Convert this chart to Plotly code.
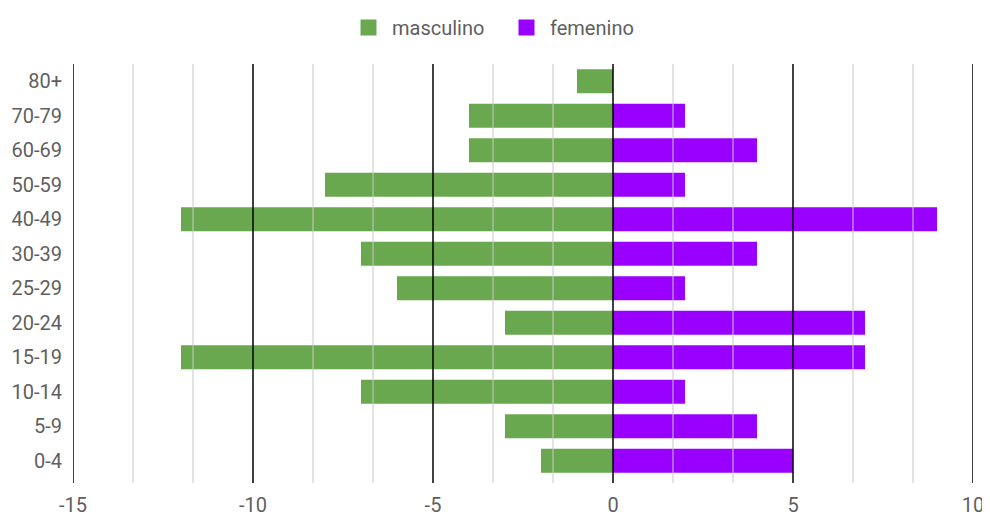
import plotly.graph_objects as go

categories = ["80+", "70-79", "60-69", "50-59", "40-49", "30-39", "25-29",
              "20-24", "15-19", "10-14", "5-9", "0-4"]
masculino = [-1, -4, -4, -8, -12, -7, -6, -3, -12, -7, -3, -2]
femenino = [0, 2, 4, 2, 9, 4, 2, 7, 7, 2, 4, 5]
x_ticks = [-15, -10, -5, 0, 5, 10]
green = "#6aa84f"
purple = "#9900ff"

fig = go.Figure()
fig.add_trace(go.Bar(y=categories, x=masculino, orientation="h", name="masculino",
                     marker=dict(color=green, line=dict(width=0)), width=0.7,
                     showlegend=False))
fig.add_trace(go.Bar(y=categories, x=femenino, orientation="h", name="femenino",
                     marker=dict(color=purple, line=dict(width=0)), width=0.7,
                     showlegend=False))
# legend entries with larger square swatches
for name, col in [("masculino", green), ("femenino", purple)]:
    fig.add_trace(go.Scatter(x=[None], y=[None], mode="markers", name=name,
                             marker=dict(symbol="square", size=19, color=col)))

# grid lines drawn above the bars, as in the reference
minor_vals = [x_ticks[0] + i * 5 / 3 for i in range(16)]
for v in minor_vals:
    is_major = any(abs(v - t) < 1e-6 for t in x_ticks)
    fig.add_shape(type="line", xref="x", yref="paper", x0=v, x1=v, y0=-0.012, y1=1,
                  line=dict(color="#000000" if is_major else "#c8c8c8",
                            width=1.5 if is_major else 1),
                  layer="above")

fig.update_layout(
    width=990, height=517,
    plot_bgcolor="white", paper_bgcolor="white",
    font=dict(family="Roboto, Arial, sans-serif", size=20, color="#5f5f5f"),
    margin=dict(l=65, r=25, t=56, b=47, autoexpand=False),
    legend=dict(orientation="h", x=0.5, xanchor="center", xref="container",
                y=1.0, yanchor="top", yref="container",
                font=dict(size=20, color="#5f5f5f"),
                itemwidth=37, entrywidth=106, traceorder="normal"),
    barmode="relative",
    xaxis=dict(range=[-15, 10], tickvals=x_ticks, ticktext=[str(v) for v in x_ticks],
               showgrid=False, zeroline=False, ticklabelstandoff=13,
               ticks="", automargin=False, showline=False, fixedrange=True),
    yaxis=dict(categoryorder="array", categoryarray=categories[::-1],
               showgrid=False, zeroline=False, ticks="", ticklabelstandoff=10,
               automargin=False, fixedrange=True),
)

fig.write_html("out.html")
